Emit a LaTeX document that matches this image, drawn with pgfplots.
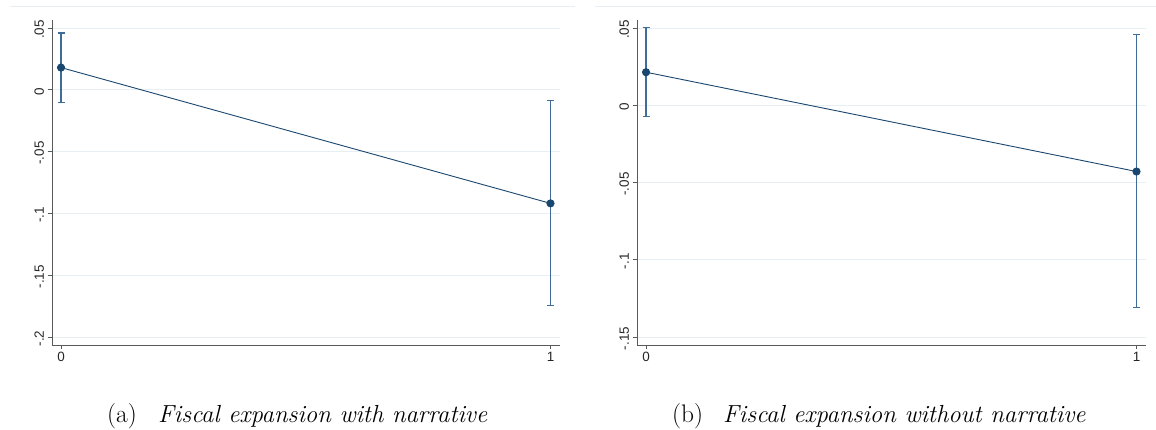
\documentclass[border=0pt]{standalone}
\usepackage{fontspec}
\usepackage{pgfplots}
\pgfplotsset{compat=1.18}
\usepackage{pgfplotstable}
\newfontfamily\stata{Liberation Sans}
\definecolor{stnavy}{HTML}{1A476F}
\definecolor{stbar}{HTML}{3F6C98}
\definecolor{stgrid}{HTML}{E6EFF1}
\definecolor{staxis}{HTML}{5A5A5A}

\pgfplotstableread{
x y hi lo
0 0.0180 0.0460 -0.0105
1 -0.0919 -0.0085 -0.1745
}\dataA
\pgfplotstableread{
x y hi lo
0 0.0214 0.0502 -0.0072
1 -0.0429 0.0457 -0.1310
}\dataB

\pgfplotsset{stata/.style={
  scale only axis, height=325bp,
  axis x line*=bottom, axis y line*=left,
  axis line style={staxis, line width=0.9bp},
  xmin=-0.0184, xmax=1.0194, xtick={0,1}, xticklabels={0,1},
  ymajorgrids, major grid style={stgrid, line width=0.9bp},
  tick style={staxis, line width=0.8bp}, tick align=outside, major tick length=4.5bp,
  tick label style={font=\stata\fontsize{13.5}{13.5}\selectfont, text=black!85},
  yticklabel style={rotate=90, anchor=south, xshift=-1.5bp},
  xticklabel style={yshift=1bp},
  clip=false,
}}

\begin{document}
\begin{tikzpicture}
\useasboundingbox (0,0) rectangle (1156bp,430bp);
\draw[stgrid, line width=0.8bp] (10bp,424bp) -- (575bp,424bp);
\draw[stgrid, line width=0.8bp] (595bp,424bp) -- (1156bp,424bp);

\begin{axis}[stata, at={(52bp,85bp)}, anchor=south west, width=508bp,
  ymin=-0.2065, ymax=0.0565,
  ytick={-0.2,-0.15,-0.1,-0.05,0,0.05}, yticklabels={-.2,-.15,-.1,-.05,0,.05}]
\addplot[stnavy, line width=0.9bp, mark=*, mark size=3.6bp, mark options={fill=stnavy, draw=stnavy},
  error bars/.cd, y dir=both, y explicit, error mark=|,
  error bar style={stbar, line width=1.3bp},
  error mark options={stbar, line width=1.3bp, mark size=3.5bp}]
  table[x=x, y=y, y error plus expr=\thisrow{hi}-\thisrow{y}, y error minus expr=\thisrow{y}-\thisrow{lo}] {\dataA};
\end{axis}

\begin{axis}[stata, at={(637bp,85bp)}, anchor=south west, width=509bp,
  ymin=-0.1552, ymax=0.0552,
  ytick={-0.15,-0.1,-0.05,0,0.05}, yticklabels={-.15,-.1,-.05,0,.05}]
\addplot[stnavy, line width=0.9bp, mark=*, mark size=3.6bp, mark options={fill=stnavy, draw=stnavy},
  error bars/.cd, y dir=both, y explicit, error mark=|,
  error bar style={stbar, line width=1.3bp},
  error mark options={stbar, line width=1.3bp, mark size=3.5bp}]
  table[x=x, y=y, y error plus expr=\thisrow{hi}-\thisrow{y}, y error minus expr=\thisrow{y}-\thisrow{lo}] {\dataB};
\end{axis}

\node[anchor=base west, inner sep=0, font=\fontsize{25.5}{30}\selectfont] at (107bp,8bp) {(a)};
\node[anchor=base west, inner sep=0, font=\fontsize{24.8}{30}\selectfont\itshape] at (158bp,8bp) {Fiscal expansion with narrative};
\node[anchor=base west, inner sep=0, font=\fontsize{25.5}{30}\selectfont] at (672bp,8bp) {(b)};
\node[anchor=base west, inner sep=0, font=\fontsize{24.8}{30}\selectfont\itshape] at (723bp,8bp) {Fiscal expansion without narrative};
\end{tikzpicture}
\end{document}
